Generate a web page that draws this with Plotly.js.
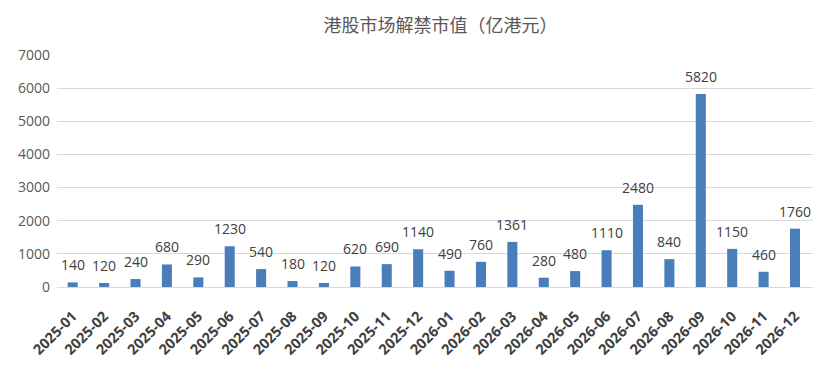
<!DOCTYPE html>
<html><head><meta charset="utf-8">
<script src="https://cdn.plot.ly/plotly-3.0.1.min.js"></script>
<style>html,body{margin:0;padding:0;background:#fff}#c{width:831px;height:367px}</style>
</head><body><div id="c"></div>
<script>
const months = ["2025-01","2025-02","2025-03","2025-04","2025-05","2025-06","2025-07","2025-08","2025-09","2025-10","2025-11","2025-12",
"2026-01","2026-02","2026-03","2026-04","2026-05","2026-06","2026-07","2026-08","2026-09","2026-10","2026-11","2026-12"];
const values = [140,120,240,680,290,1230,540,180,120,620,690,1140,490,760,1361,280,480,1110,2480,840,5820,1150,460,1760];
const yTicks = [0,1000,2000,3000,4000,5000,6000,7000];

const labelFont = {family: 'Open Sans, DejaVu Sans, sans-serif', size: 14, color: '#404040'};
const annotations = months.map((m, i) => ({
  x: m, y: values[i], xref: 'x', yref: 'y', text: String(values[i]),
  showarrow: false, yanchor: 'bottom', yshift: 6, font: labelFont
}));

Plotly.newPlot('c', [{
  type: 'bar', x: months, y: values,
  marker: {color: '#4a7ebb'},
  hoverinfo: 'x+y'
}], {
  width: 831, height: 367,
  margin: {l: 57, r: 18, t: 55, b: 80},
  paper_bgcolor: '#fff', plot_bgcolor: '#fff',
  bargap: 0.68,
  annotations: annotations,
  title: {text: '港股市场解禁市值（亿港元）', x: 0.53, xanchor: 'center', y: 0.93, yanchor: 'middle',
    font: {family: 'Noto Sans CJK SC, sans-serif', size: 18, color: '#595959'}},
  xaxis: {type: 'category', tickangle: -45, showgrid: false, showline: false, ticks: '', ticklabelstandoff: 17,
    tickfont: {family: 'Open Sans, DejaVu Sans, sans-serif', size: 14.5, color: '#404040', weight: 'bold'}},
  yaxis: {range: [0, 7000], tickvals: yTicks, ticktext: yTicks.map(String), gridcolor: '#d9d9d9', zeroline: true, zerolinecolor: '#d9d9d9',
    showline: false, ticks: '', ticklen: 0, ticklabelstandoff: 6,
    tickfont: {family: 'Open Sans, DejaVu Sans, sans-serif', size: 14, color: '#595959'}},
  showlegend: false
}, {displayModeBar: false});
</script></body></html>
